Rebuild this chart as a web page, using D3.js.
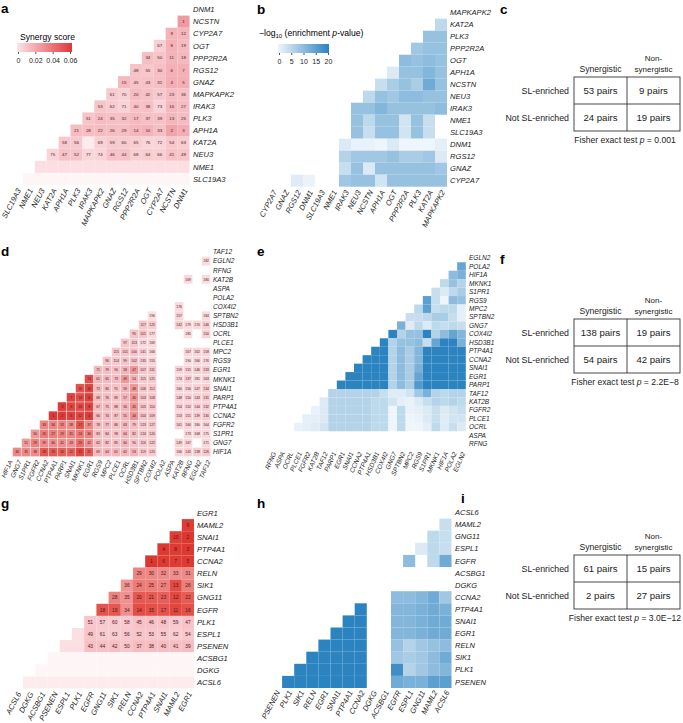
<!DOCTYPE html>
<html><head><meta charset="utf-8">
<script src="https://cdn.jsdelivr.net/npm/d3@7"></script>
<style>
body{margin:0;background:#fff;}
svg{display:block;font-family:"Liberation Sans",Arial,Helvetica,sans-serif;}
</style></head><body>
<svg id="chart" width="683" height="723"></svg>
<script>
// ================= DATA =================
// Triangle heatmaps: genes listed top-to-bottom (columns are the same genes reversed).
// Row r holds the values of its cells, right-aligned to the last column.
// Red panels: positive = rank label (synergy rank), negative = unranked pale cell (tone level), null = no cell.
const aGenes = ["DNM1","NCSTN","CYP2A7","OGT","PPP2R2A","RGS12","GNAZ","MAPKAPK2","IRAK3","PLK3","APH1A","KAT2A","NEU3","NME1","SLC19A3"];
const aRanks = [
  [],
  [1],
  [9,12],
  [67,8,19],
  [34,50,11,18],
  [48,55,30,6,7],
  [15,45,43,31,4,5],
  [61,70,20,42,57,23,36],
  [53,62,71,40,38,73,16,27],
  [51,24,35,32,17,37,39,13,25],
  [21,28,22,26,29,14,10,33,2,3],
  [58,56,-2,69,59,60,65,76,72,54,63],
  [75,47,52,77,74,46,44,68,64,66,41,49],
  [-3,-3,-3,-3,-3,-3,-3,-3,-3,-3,-3,-3,-3],
  [-1,-1,-1,-1,-1,-1,-1,-1,-1,-1,-1,-1,-1,-1]
];
const aLegendTicks = [0, 0.02, 0.04, 0.06];

// Blue panels: -log10 enrichment p-value
const bGenes = ["MAPKAPK2","KAT2A","PLK3","PPP2R2A","OGT","APH1A","NCSTN","NEU3","IRAK3","NME1","SLC19A3","DNM1","RGS12","GNAZ","CYP2A7"];
const bVals = [
  [],
  [5],
  [9,9],
  [8,9,9],
  [10,9,10,9],
  [2,9,9,11,9],
  [4,7,9,7,13,9],
  [5,9,8,10,10,9,9],
  [9,9,11,9,9,9,9,10],
  [null,9,5,9,9,3,9,4,null],
  [null,null,9,4,9,9,3,9,4,null],
  [null,null,2,0.5,0.5,0,2,0,0,0,1],
  [null,null,null,6,8,8,8,9,7,7,8,2],
  [null,null,null,null,4,9,2,9,9,9,9,9,8],
  [null,1.5,0.3,null,null,8,9,9,3,9,9,9,9,9]
];
const bLegendTicks = [0, 5, 10, 15, 20];

const cCounts = [[53, 9], [24, 19]];
const cP = "0.001";

const dGenes = ["TAF12","EGLN2","RFNG","KAT2B","ASPA","POLA2","COX4I2","SPTBN2","HSD3B1","OCRL","PLCE1","MPC2","RGS9","EGR1","MKNK1","SNAI1","PARP1","PTP4A1","CCNA2","FGFR2","S1PR1","GNG7","HIF1A"];
const dRanks = [
  [],
  [182],
  [null,null],
  [169,null,180],
  [null,null,null,null],
  [null,null,null,null,null],
  [null,null,176,null,null,null],
  [196,null,null,157,null,null,184],
  [117,125,null,null,142,179,170,146],
  [95,101,177,null,null,null,185,null,150],
  [97,113,172,169,null,null,null,null,null,null],
  [115,101,100,141,166,null,null,null,167,162,158],
  [96,114,99,102,135,155,null,null,null,190,166,176],
  [71,79,90,58,47,107,111,null,null,159,155,146,133],
  [15,61,65,73,49,54,115,121,null,null,174,137,181,163],
  [16,10,72,80,91,59,48,106,112,null,null,160,156,147,134],
  [7,14,6,68,76,89,57,46,103,108,null,null,148,150,143,131],
  [3,9,13,8,67,75,88,56,45,105,110,null,null,154,152,144,132],
  [1,2,5,12,4,66,74,87,55,44,104,109,null,null,153,151,139,130],
  [33,34,32,38,17,37,78,77,86,63,79,123,127,null,null,161,160,180,164],
  [50,26,27,29,31,24,30,83,84,98,64,82,124,120,null,null,null,173,168,175],
  [51,29,39,40,41,43,23,42,62,82,85,60,90,116,122,null,null,149,167,null,171],
  [36,35,38,18,19,20,22,11,21,69,64,61,62,53,119,125,null,null,166,145,138,126]
];

const eGenes = ["EGLN2","POLA2","HIF1A","MKNK1","S1PR1","RGS9","MPC2","SPTBN2","GNG7","COX4I2","HSD3B1","PTP4A1","CCNA2","SNAI1","EGR1","PARP1","TAF12","KAT2B","FGFR2","PLCE1","OCRL","ASPA","RFNG"];
const eVals = [
  [],
  [14],
  [10,12],
  [5,9,6],
  [4,2,5,7],
  [15,4,0,10,9],
  [5,15,4,5,5,1],
  [4,4,5,7,7,4,1],
  [12,1.5,5,2,5,4,5,4],
  [20,6,9,9,20,6,10,14,11],
  [20,6,9,9,10,4,14,20,20,12],
  [20,20,6,10,7,11,20,20,20,20,20],
  [20,20,20,6,10,7,11,20,20,20,20,20],
  [20,20,20,20,6,10,7,12,20,20,20,20,20],
  [20,20,20,20,20,6,10,7,14,20,20,20,20,20],
  [20,20,20,20,20,20,6,10,7,16,20,20,20,20,20],
  [6,6,6,6,6,6,4,1.5,1.5,3,8,12,6,5,6,6],
  [2,6,6,6,6,6,5,5,3,1,0.5,2,4,6,5,6,5],
  [0.5,2,6,6,6,6,6,5,5,0,5,0.5,1,2,4,2,3,4],
  [1,1,2,6,6,6,6,6,5,5,0,5,0,0.5,2,4,1.5,3,3],
  [0.5,1,1.5,3,6,6,6,6,6,5,5,0,5,0,0,1,5,1.5,4,2],
  [],
  []
];

const fCounts = [[138, 19], [54, 42]];
const fP = "2.2E\u22128";

const gGenes = ["EGR1","MAML2","SNAI1","PTP4A1","CCNA2","RELN","SIK1","GNG11","EGFR","PLK1","ESPL1","PSENEN","ACSBG1","DGKG","ACSL6"];
const gRanks = [
  [],
  [9],
  [10,2],
  [4,8,3],
  [1,6,7,5],
  [29,30,32,33,31],
  [36,24,25,27,13,26],
  [28,35,20,21,23,12,22],
  [18,19,34,14,15,17,11,16],
  [51,57,60,58,45,46,48,59,47],
  [-3,49,61,63,56,52,53,55,62,54],
  [-3,-3,43,44,42,50,37,38,40,41,39],
  [-1,-1,-1,-1,-1,-1,-1,-1,-1,-1,-1,-1],
  [-1,-1,-1,-1,-1,-1,-1,-1,-1,-1,-1,-1,-1],
  [-2,-2,-2,-2,-2,-2,-2,-2,-2,-2,-2,-2,-2,-2]
];

const hGenes = ["ACSL6","MAML2","GNG11","ESPL1","EGFR","ACSBG1","DGKG","CCNA2","PTP4A1","SNAI1","EGR1","RELN","SIK1","PLK1","PSENEN"];
const hVals = [
  [],
  [4],
  [5,4],
  [2,5,4],
  [10,null,5,13],
  [],
  [],
  [null,null,10,10,11,13,8],
  [22,null,null,11,11,12,13,12],
  [22,22,null,null,11,11,12,13,13],
  [22,22,22,null,null,11,11,12,13,13],
  [22,22,22,22,null,null,9,6,8,9,10],
  [22,22,22,22,22,null,null,8,7,8,10,13],
  [22,22,22,22,22,22,null,null,18,6,8,10,11],
  [22,22,22,22,22,22,22,null,null,13,12,12,15,15]
];

const iCounts = [[61, 15], [2, 27]];
const iP = "3.0E\u221212";

const tableRowLabels = ["SL-enriched", "Not SL-enriched"];

// ================= DRAWING =================
const svg = d3.select("#chart");
const defs = svg.append("defs");

const paleTone = d3.scaleOrdinal().domain([1,2,3]).range(["#fef5f6","#fdecee","#fbdfe2"]);
function redColor(rankScale){ return v => v < 0 ? paleTone(-v) : rankScale(v); }
const aColor = redColor(d3.scaleLinear().domain([1,3,20,50,77]).range(["#ef99a1","#f3adb4","#f5bcc2","#f6c4c9","#f9d6da"]).clamp(true));
const dColor = redColor(d3.scaleLinear().domain([1,12,22,24,51,53,90,130,200])
  .range(["#dc3a36","#e04843","#e6635d","#eb7c78","#f09a9b","#f4b3b8","#f6c2c7","#f8ccd1","#fbe1e4"]).clamp(true));
const gColor = redColor(d3.scaleLinear().domain([1,10,11,23,24,36,37,63])
  .range(["#dc3630","#e03d37","#e2473f","#e75f58","#ec7b76","#f09494","#f6bcc2","#f8cdd2"]).clamp(true));
const blue = d3.scaleLinear().domain([0,20]).range(["#eef5fb","#2b83c0"]).clamp(true);

function heat(o){
  const n = o.genes.length;
  const cols = o.genes.slice().reverse();
  const x = d3.scaleBand().domain(cols).range([o.x0, o.x0 + n*o.cw]);
  const y = d3.scaleBand().domain(o.genes).range([o.y0, o.y0 + n*o.rh]);
  const cells = [];
  o.data.forEach((arr, r) => {
    const start = n - arr.length;
    arr.forEach((v, k) => { if (v !== null) cells.push({row:o.genes[r], col:cols[start+k], v:v}); });
  });
  const g = svg.append("g");
  g.selectAll("rect.cell").data(cells).join("rect").attr("class","cell")
    .attr("x", d => x(d.col)).attr("y", d => y(d.row))
    .attr("width", x.bandwidth()).attr("height", y.bandwidth())
    .attr("fill", d => o.color(d.v))
    .attr("stroke", o.stroke || "none").attr("stroke-width", o.strokeW || 0);
  if (o.numFont){
    g.selectAll("text.num").data(cells.filter(d => d.v >= 1)).join("text").attr("class","num")
      .attr("x", d => x(d.col) + x.bandwidth()/2).attr("y", d => y(d.row) + y.bandwidth()/2)
      .attr("dy","0.35em").attr("text-anchor","middle")
      .attr("font-size", o.numFont).attr("fill", "#4a1515").text(d => d.v);
  }
  g.selectAll("text.rl").data(o.genes).join("text").attr("class","rl")
    .attr("x", o.labelX).attr("y", d => y(d) + y.bandwidth()/2).attr("dy","0.35em")
    .attr("font-size", o.labFont).attr("font-style","italic").attr("fill","#222").text(d => d);
  const yb = o.y0 + n*o.rh + o.colGap;
  g.selectAll("text.cl").data(cols).join("text").attr("class","cl")
    .attr("transform", d => `translate(${x(d) + x.bandwidth()/2 + o.colDx},${yb}) rotate(${o.rot || -62})`)
    .attr("text-anchor","end").attr("dy","0.35em")
    .attr("font-size", o.labFont).attr("font-style","italic").attr("fill","#222").text(d => d);
}

function panelLetter(t, x, y){
  svg.append("text").attr("x",x).attr("y",y).attr("font-size",13.5).attr("font-weight","bold").text(t);
}

function table(counts, p, yTop){
  const x0 = 574, xm = 627, x1 = 680, h = 27;
  const yMid = yTop + h, yBot = yTop + 2*h;
  const g = svg.append("g").attr("fill","#222");
  g.append("rect").attr("x",x0).attr("y",yTop).attr("width",x1-x0).attr("height",yBot-yTop)
    .attr("fill","none").attr("stroke","#333").attr("stroke-width",0.9);
  g.append("line").attr("x1",xm).attr("x2",xm).attr("y1",yTop).attr("y2",yBot).attr("stroke","#333").attr("stroke-width",0.9);
  g.append("line").attr("x1",x0).attr("x2",x1).attr("y1",yMid).attr("y2",yMid).attr("stroke","#333").attr("stroke-width",0.9);
  const cx = [(x0+xm)/2, (xm+x1)/2];
  g.append("text").attr("x",cx[0]).attr("y",yTop-5).attr("text-anchor","middle").attr("font-size",8.6).text("Synergistic");
  g.append("text").attr("x",cx[1]).attr("y",yTop-16).attr("text-anchor","middle").attr("font-size",8).text("Non-");
  g.append("text").attr("x",cx[1]).attr("y",yTop-5).attr("text-anchor","middle").attr("font-size",8).text("synergistic");
  tableRowLabels.forEach((lab, i) => {
    const cy = yTop + h*i + h/2;
    g.append("text").attr("x",569).attr("y",cy).attr("dy","0.35em").attr("text-anchor","end").attr("font-size",8.8).text(lab);
    counts[i].forEach((c, j) => {
      g.append("text").attr("x",cx[j]).attr("y",cy).attr("dy","0.35em").attr("text-anchor","middle").attr("font-size",9.6).text(c + " pairs");
    });
  });
  const ft = g.append("text").attr("x",625).attr("y",yBot+12).attr("text-anchor","middle").attr("font-size",8.6);
  ft.append("tspan").text("Fisher exact test ");
  ft.append("tspan").attr("font-style","italic").text("p");
  ft.append("tspan").text(" = " + p);
}

// ---- panel a ----
panelLetter("a", 1, 13);
heat({genes:aGenes, data:aRanks, color:aColor, x0:11, cw:11.9, y0:3.5, rh:12.1, labelX:193,
      labFont:7.6, numFont:4.4, colGap:4, colDx:2});
{
  const lx = d3.scaleLinear().domain([0,0.06]).range([18,70]);
  const grad = defs.append("linearGradient").attr("id","gradA");
  grad.append("stop").attr("offset","0%").attr("stop-color","#fde4e7");
  grad.append("stop").attr("offset","100%").attr("stop-color","#e0363a");
  svg.append("text").attr("x",20).attr("y",40).attr("font-size",8.6).text("Synergy score");
  svg.append("rect").attr("x",17).attr("y",43).attr("width",55).attr("height",9).attr("fill","url(#gradA)");
  const ax = svg.append("g").attr("transform","translate(0,52)")
    .call(d3.axisBottom(lx).tickValues(aLegendTicks).tickSize(2).tickFormat(d => d===0?"0":d3.format(".2f")(d)));
  ax.select(".domain").remove();
  ax.selectAll("line").attr("stroke","#555");
  ax.selectAll("text").attr("font-size",7).attr("font-family","Liberation Sans, Arial, sans-serif").attr("fill","#222").attr("dy","0.9em");
}

// ---- panel b ----
panelLetter("b", 257, 14);
heat({genes:bGenes, data:bVals, color:blue, x0:267, cw:12, y0:6.7, rh:12, labelX:450,
      labFont:7.6, colGap:4, colDx:2});
{
  const lx = d3.scaleLinear().domain([0,20]).range([279,328]);
  const grad = defs.append("linearGradient").attr("id","gradB");
  grad.append("stop").attr("offset","0%").attr("stop-color",blue(0));
  grad.append("stop").attr("offset","100%").attr("stop-color",blue(20));
  const t = svg.append("text").attr("x",259).attr("y",36).attr("font-size",8.6);
  t.append("tspan").text("\u2212log");
  t.append("tspan").attr("font-size",6).attr("dy",2).text("10");
  t.append("tspan").attr("dy",-2).text(" (enrichment ");
  t.append("tspan").attr("font-style","italic").text("p");
  t.append("tspan").text("-value)");
  svg.append("rect").attr("x",278).attr("y",44).attr("width",51).attr("height",9).attr("fill","url(#gradB)");
  const ax = svg.append("g").attr("transform","translate(0,53)")
    .call(d3.axisBottom(lx).tickValues(bLegendTicks).tickSize(2));
  ax.select(".domain").remove();
  ax.selectAll("line").attr("stroke","#555");
  ax.selectAll("text").attr("font-size",7).attr("font-family","Liberation Sans, Arial, sans-serif").attr("fill","#222").attr("dy","0.9em");
}

// ---- panel c ----
panelLetter("c", 500, 14);
table(cCounts, cP, 77);

// ---- panel d ----
panelLetter("d", 1, 256);
heat({genes:dGenes, data:dRanks, color:dColor, x0:3.6, cw:9.0, y0:247.5, rh:9.09, labelX:213,
      labFont:6.5, numFont:3.4, colGap:4, colDx:2.5, rot:-66, stroke:"#fff", strokeW:0.35});

// ---- panel e ----
panelLetter("e", 257, 256);
heat({genes:eGenes, data:eVals, color:blue, x0:268, cw:8.6, y0:253.8, rh:8.45, labelX:469,
      labFont:6.5, colGap:4, colDx:2, rot:-66});

// ---- panel f ----
panelLetter("f", 500, 264);
table(fCounts, fP, 319);

// ---- panel g ----
panelLetter("g", 1, 508);
heat({genes:gGenes, data:gRanks, color:gColor, x0:11, cw:12.2, y0:507, rh:12.1, labelX:197,
      labFont:7.6, numFont:4.8, colGap:4, colDx:2});

// ---- panel h ----
panelLetter("h", 257, 508);
heat({genes:hGenes, data:hVals, color:blue, x0:270, cw:12.1, y0:506.5, rh:12.1, labelX:455,
      labFont:7.5, colGap:3, colDx:2});

// ---- panel i ----
panelLetter("i", 461, 503);
table(iCounts, iP, 555);
</script></body></html>
